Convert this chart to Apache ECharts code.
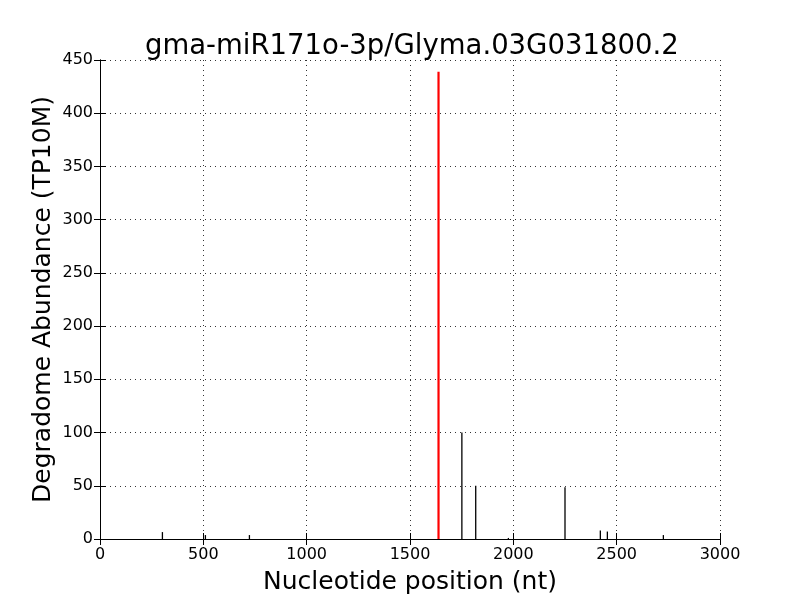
<!DOCTYPE html>
<html>
<head>
<meta charset="utf-8">
<script src="https://cdn.jsdelivr.net/npm/echarts@6/dist/echarts.min.js"></script>
<style>html,body{margin:0;padding:0;background:#fff}#c{width:800px;height:600px}</style>
</head>
<body>
<div id="c"></div>
<script>
const titleText = 'gma-miR171o-3p/Glyma.03G031800.2';
const xName = 'Nucleotide position (nt)';
const yName = 'Degradome Abundance (TP10M)';
const xTicks = [0, 500, 1000, 1500, 2000, 2500, 3000];
const yTicks = [0, 50, 100, 150, 200, 250, 300, 350, 400, 450];
const positions = [302, 510, 723, 1976, 1751, 1818, 2250, 2421, 2455, 2726];
const abundance = [6.5, 3.7, 3.7, 1, 100, 50, 48.5, 8, 7, 3.7];
const targetPos = [1638];
const targetVal = [439];

const blackData = positions.map((p, i) => [p, abundance[i]]);
const redData = targetPos.map((p, i) => [p, targetVal[i]]);

function stem(color, width) {
  return function (params, api) {
    const p0 = api.coord([api.value(0), 0]);
    const p1 = api.coord([api.value(0), api.value(1)]);
    return {
      type: 'line',
      shape: { x1: p0[0], y1: p0[1], x2: p1[0], y2: p1[1] },
      style: { stroke: color, lineWidth: width }
    };
  };
}

const font = 'DejaVu Sans';
const chart = echarts.init(document.getElementById('c'), null, { renderer: 'canvas' });
const axisCommon = {
  axisLine: { show: true, lineStyle: { color: '#000', width: 1 } },
  axisTick: { show: true, inside: true, length: 6, lineStyle: { color: '#000', width: 1 } }
};
const plain = v => String(v);
chart.setOption({
  animation: false,
  backgroundColor: '#fff',
  title: {
    text: titleText, left: 140, top: 28,
    textStyle: { fontFamily: font, fontSize: 27.5, fontWeight: 'normal', color: '#000' }
  },
  grid: { left: 100, right: 80, top: 60, bottom: 60 },
  xAxis: [{
    type: 'value', min: xTicks[0], max: xTicks[xTicks.length - 1], interval: 500,
    position: 'bottom',
    name: xName, nameLocation: 'middle', nameGap: 31, nameMoveOverlap: false,
    nameTextStyle: { fontFamily: font, fontSize: 25, color: '#000' },
    ...axisCommon,
    axisLabel: { fontFamily: font, fontSize: 16, color: '#000', margin: 8, formatter: plain },
    splitLine: { show: true, lineStyle: { color: '#000', width: 0.8, type: [1, 4] } }
  }, {
    type: 'value', min: xTicks[0], max: xTicks[xTicks.length - 1], interval: 500,
    position: 'top', ...axisCommon,
    axisLabel: { show: false }, splitLine: { show: false }
  }],
  yAxis: [{
    type: 'value', min: yTicks[0], max: yTicks[yTicks.length - 1], interval: 50,
    position: 'left',
    name: yName, nameLocation: 'middle', nameGap: 44, nameMoveOverlap: false,
    nameTextStyle: { fontFamily: font, fontSize: 25, color: '#000' },
    ...axisCommon,
    axisLabel: { fontFamily: font, fontSize: 16, color: '#000', margin: 7, formatter: plain },
    splitLine: { show: true, lineStyle: { color: '#000', width: 0.8, type: [1, 4] } }
  }, {
    type: 'value', min: yTicks[0], max: yTicks[yTicks.length - 1], interval: 50,
    position: 'right', ...axisCommon,
    axisLabel: { show: false }, splitLine: { show: false }
  }],
  series: [{
    type: 'custom', name: 'reads', renderItem: stem('#000', 1.3),
    data: blackData, encode: { x: 0, y: 1 }, clip: true
  }, {
    type: 'custom', name: 'target', renderItem: stem('#ff0000', 2.2),
    data: redData, encode: { x: 0, y: 1 }, clip: true
  }]
});
</script>
</body>
</html>
